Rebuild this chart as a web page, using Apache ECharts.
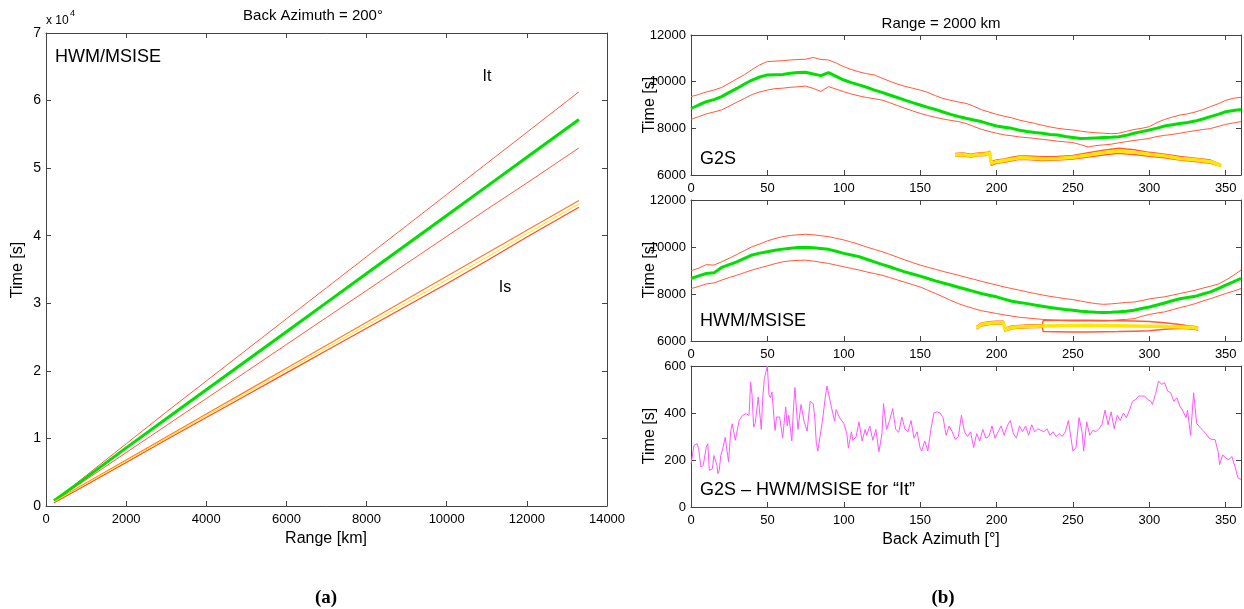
<!DOCTYPE html>
<html>
<head>
<meta charset="utf-8">
<script src="https://cdn.jsdelivr.net/npm/echarts@6/dist/echarts.min.js"></script>
<style>
  html, body { margin: 0; padding: 0; background: #fff; }
  #chart { width: 1244px; height: 609px; }
</style>
</head>
<body>
<div id="chart"></div>
<script>
// (a) travel time vs range
const rangeKm = [200, 1000, 2000, 3000, 4000, 5000, 6000, 7000, 8000, 9000, 10000, 11000, 12000, 13300];
const itMid   = [800, 4200, 8600, 12900, 17200, 21500, 25800, 30100, 34400, 38700, 43000, 47300, 51600, 57200];
const itHigh  = [700, 4500, 9200, 13900, 18500, 23100, 27700, 32300, 36900, 41500, 46100, 50700, 55300, 61300];
const itLow   = [700, 3900, 7900, 11900, 15900, 19900, 23900, 27900, 31900, 35900, 39900, 43900, 47800, 53000];
const isHigh  = [700, 3400, 6800, 10200, 13600, 17000, 20400, 23800, 27200, 30600, 34000, 37400, 40800, 45200];
const isMid   = [620, 3300, 6650, 10000, 13350, 16700, 20050, 23400, 26750, 30100, 33450, 36800, 40300, 44700];
const isLow   = [500, 3100, 6450, 9800, 13100, 16400, 19700, 23000, 26300, 29600, 32900, 36300, 39800, 44200];

// (b) back azimuth, every 5 degrees
const az = [0,5,10,15,20,25,30,35,40,45,50,55,60,65,70,75,80,85,90,95,100,105,110,115,120,125,130,135,140,145,150,155,160,165,170,175,180,185,190,195,200,205,210,215,220,225,230,235,240,245,250,255,260,265,270,275,280,285,290,295,300,305,310,315,320,325,330,335,340,345,350,355,360];

const g2sIt = [8850,9000,9140,9230,9360,9540,9710,9900,10070,10200,10290,10300,10310,10360,10390,10400,10330,10260,10390,10230,10070,9960,9860,9760,9640,9540,9430,9320,9210,9100,9000,8900,8810,8700,8600,8510,8430,8360,8290,8190,8100,8050,8000,7920,7860,7820,7790,7740,7710,7650,7610,7560,7570,7590,7610,7620,7640,7700,7790,7860,7930,8010,8100,8150,8210,8250,8310,8400,8500,8600,8710,8760,8810];
const g2sItHigh = [9360,9450,9560,9640,9750,9930,10120,10300,10520,10720,10860,10880,10900,10930,10950,10960,11040,10950,10930,10800,10640,10520,10420,10340,10290,10150,10020,9900,9800,9720,9640,9540,9400,9280,9200,9130,9070,8950,8800,8700,8600,8520,8450,8350,8280,8210,8130,8060,8000,7960,7930,7880,7840,7810,7790,7770,7790,7870,7950,8000,8070,8250,8380,8480,8570,8620,8700,8800,8930,9050,9200,9290,9330];
const g2sItLow = [8390,8500,8620,8700,8790,8950,9120,9280,9450,9560,9640,9700,9720,9760,9780,9810,9710,9580,9790,9680,9570,9470,9390,9320,9270,9210,9100,8980,8860,8750,8640,8550,8470,8400,8340,8290,8210,8080,7960,7870,7790,7720,7680,7630,7600,7570,7530,7490,7450,7420,7390,7300,7200,7260,7290,7320,7380,7430,7480,7520,7570,7650,7700,7740,7790,7850,7900,7950,7990,8080,8170,8230,8290];

const hwmIt = [8660,8770,8870,8900,9130,9250,9370,9520,9660,9740,9800,9860,9910,9950,9980,9990,9970,9940,9900,9820,9730,9660,9590,9480,9370,9260,9160,9050,8940,8850,8760,8660,8560,8470,8380,8290,8200,8110,8020,7950,7880,7780,7690,7640,7590,7530,7480,7430,7380,7340,7310,7270,7240,7220,7210,7220,7240,7270,7310,7380,7450,7530,7620,7710,7800,7850,7900,8000,8090,8230,8380,8520,8660];
const hwmItHigh = [8990,9100,9250,9230,9370,9520,9680,9850,10010,10130,10260,10360,10440,10490,10520,10540,10520,10480,10440,10370,10300,10210,10110,10000,9900,9800,9690,9570,9450,9340,9230,9140,9050,8960,8880,8800,8710,8630,8540,8460,8380,8300,8230,8160,8090,8020,7960,7900,7850,7800,7760,7700,7640,7590,7560,7580,7610,7640,7660,7720,7790,7840,7880,7950,8020,8090,8160,8250,8330,8420,8590,8790,9020];
const hwmItLow = [8230,8320,8430,8470,8590,8700,8800,8910,9020,9110,9200,9290,9370,9410,9430,9440,9400,9350,9300,9230,9160,9090,9020,8940,8870,8800,8700,8600,8500,8400,8300,8160,8020,7880,7730,7590,7480,7380,7290,7230,7170,7110,7060,7010,6980,6950,6920,6900,6880,6860,6850,6850,6850,6850,6850,6870,6900,6920,6950,7050,7130,7190,7240,7330,7420,7500,7590,7700,7800,7910,8020,8120,8230];

// "Is" arrivals, only where they exist
const g2sIsAz   = [173,178,183,188,193,195.5,196.5,200,205,210,215,220,230,240,250,260,270,280,285,290,300,310,320,330,340,347];
const g2sIs     = [6860,6880,6830,6880,6900,6960,6500,6570,6620,6680,6740,6730,6700,6710,6760,6860,6960,7030,7000,6980,6890,6820,6710,6650,6570,6400];
const g2sIsHigh = [6920,6940,6890,6940,6960,7020,6580,6640,6690,6760,6810,6810,6780,6790,6840,6950,7060,7150,7110,7080,6970,6890,6790,6720,6640,6440];
const g2sIsLow  = [6800,6820,6770,6820,6840,6900,6420,6500,6550,6610,6670,6660,6620,6640,6690,6770,6860,6930,6900,6880,6800,6740,6640,6580,6500,6370];

const hwmIsAz   = [187,190,195,200,204.5,205.5,210,220,230,230.5,240,250,260,270,280,290,300,310,320,325,330,332];
const hwmIs     = [6560,6700,6760,6780,6780,6480,6580,6620,6640,6640,6650,6660,6670,6660,6650,6640,6630,6620,6600,6580,6560,6520];
const hwmIsHigh = [6620,6760,6820,6840,6840,6540,6640,6680,6700,6870,6880,6880,6880,6870,6860,6850,6830,6780,6700,6650,6620,6580];
const hwmIsLow  = [6500,6640,6700,6720,6720,6420,6520,6560,6580,6400,6390,6380,6380,6390,6400,6420,6440,6500,6540,6520,6500,6460];

// G2S - HWM/MSISE difference for "It"
const diffAz = [0,2,4,5,6.5,8,10,11,12,14,15,17,17.6,18.5,19.5,21,22.4,24,24.6,26,27,28,29,30,31.5,33.7,36,38,39,40,41,42,44,46,47,48,50,51,52,53,55,56,58,60,62,63,64,66,67,68,70,72,74,76,78,80,81,82,83,84,86,88,89,90,92,94,95,97,100,102,103,105,106,108,110,112,114,115,117,119,121,123,125,126,128,130,132,134,136,138,140,142,144,146,148,150,151,153,155,157,159,161,163,165,167,169,171,173,175,177,179,181,183,185,187,189,191,193,195,197,199,201,203,205,207,209,211,213,215,217,219,221,223,225,227,229,231,233,235,237,239,241,243,245,247,249,250,252,254,256,257,259,261,263,265,267,269,271,273,275,277,279,281,283,285,287,289,291,293,295,297,299,301,302,304,306,308,310,312,314,316,318,320,322,324,325,327,329,331,333,335,337,339,341,343,345,346,348,350,352,354,356,358,360];
const diffVal = [184,262,269,248,170,177,255,269,156,163,219,177,142,156,219,255,297,219,191,325,354,319,284,291,368,390,397,390,532,475,340,355,468,330,468,546,600,479,465,489,326,383,383,294,426,345,390,281,412,508,330,436,365,323,450,440,383,274,238,245,365,472,515,508,422,365,415,383,355,313,250,320,284,298,362,281,330,305,345,284,330,235,312,440,330,368,419,330,318,383,333,320,368,293,320,250,238,281,238,330,400,405,400,380,305,345,320,287,300,390,320,300,320,253,312,281,330,293,300,345,293,320,345,305,345,368,312,293,345,320,345,305,350,320,333,326,320,333,305,320,300,312,300,320,368,281,238,253,380,320,238,362,305,326,320,333,350,412,350,405,333,390,368,400,380,412,450,457,472,472,472,457,450,436,479,536,522,529,493,486,450,465,429,408,380,412,305,486,355,340,326,312,294,287,287,236,180,222,208,201,215,173,124,117];

const zip = (xs, ys) => xs.map((x, i) => [x, ys[i]]);

const FONT = '"Liberation Sans", Arial, sans-serif';
const AXC = '#444';
const GREEN = '#00e000';
const RED = '#ff5a3c';
const YELLOW = '#ffe600';
const MAGENTA = '#ff55ff';

const grids = [
  { left: 46, top: 33, width: 561, height: 473 },
  { left: 691, top: 35, width: 552, height: 140 },
  { left: 691, top: 200, width: 552, height: 141 },
  { left: 691, top: 366, width: 552, height: 141 }
];

const tickStyle = () => ({ inside: true, length: 5, lineStyle: { color: AXC } });
// onZero off, otherwise the mirrored frame axes jump onto the zero line
const lineStyleAx = () => ({ show: true, onZero: false, lineStyle: { color: AXC, width: 1 } });
const labelStyle = { color: '#000', fontFamily: FONT, fontSize: 13 };

const xSpec = [
  { min: 0, max: 14000, interval: 2000 },
  { min: 0, max: 360, interval: 50 },
  { min: 0, max: 360, interval: 50 },
  { min: 0, max: 360, interval: 50 }
];
const ySpec = [
  { min: 0, max: 70000, interval: 10000, fmt: v => String(v / 10000), size: 14 },
  { min: 6000, max: 12000, interval: 2000, fmt: v => String(v), size: 13 },
  { min: 6000, max: 12000, interval: 2000, fmt: v => String(v), size: 13 },
  { min: 0, max: 600, interval: 200, fmt: v => String(v), size: 13 }
];

const xAxis = [], yAxis = [];
grids.forEach((g, i) => {
  const xs = xSpec[i], ys = ySpec[i];
  xAxis.push({
    type: 'value', gridIndex: i, position: 'bottom', min: xs.min, max: xs.max, interval: xs.interval,
    axisLine: lineStyleAx(), axisTick: tickStyle(), splitLine: { show: false },
    axisLabel: Object.assign({}, labelStyle, { margin: 7, formatter: v => (v % xs.interval === 0 ? String(v) : '') })
  });
  xAxis.push({
    type: 'value', gridIndex: i, position: 'top', min: xs.min, max: xs.max, interval: xs.interval,
    axisLine: lineStyleAx(), axisTick: tickStyle(), splitLine: { show: false }, axisLabel: { show: false }
  });
  yAxis.push({
    type: 'value', gridIndex: i, position: 'left', min: ys.min, max: ys.max, interval: ys.interval,
    axisLine: lineStyleAx(), axisTick: tickStyle(), splitLine: { show: false },
    axisLabel: Object.assign({}, labelStyle, { fontSize: ys.size, margin: 5, formatter: ys.fmt })
  });
  yAxis.push({
    type: 'value', gridIndex: i, position: 'right', min: ys.min, max: ys.max, interval: ys.interval,
    axisLine: lineStyleAx(), axisTick: tickStyle(), splitLine: { show: false }, axisLabel: { show: false }
  });
});

function line(gi, data, color, width, z) {
  return {
    type: 'line', xAxisIndex: gi * 2, yAxisIndex: gi * 2, data: data,
    showSymbol: false, symbol: 'none', smooth: false, animation: false, z: z || 2,
    lineStyle: { color: color, width: width }, silent: true
  };
}

const series = [
  // (a)
  line(0, zip(rangeKm, itHigh), RED, 1),
  line(0, zip(rangeKm, itLow), RED, 1),
  line(0, zip(rangeKm, itMid), GREEN, 3, 3),
  line(0, zip(rangeKm, isHigh), '#ff7a30', 1.2),
  line(0, zip(rangeKm, isLow), '#ff4a20', 1.2),
  line(0, zip(rangeKm, isMid), YELLOW, 1, 3),
  // (b) G2S
  line(1, zip(az, g2sItHigh), RED, 1),
  line(1, zip(az, g2sItLow), RED, 1),
  line(1, zip(az, g2sIt), GREEN, 3, 3),
  line(1, zip(g2sIsAz, g2sIsHigh), RED, 1.5),
  line(1, zip(g2sIsAz, g2sIsLow), RED, 1.5),
  line(1, zip(g2sIsAz, g2sIs), YELLOW, 3.5, 3),
  // (b) HWM/MSISE
  line(2, zip(az, hwmItHigh), RED, 1),
  line(2, zip(az, hwmItLow), RED, 1),
  line(2, zip(az, hwmIt), GREEN, 3, 3),
  line(2, zip(hwmIsAz, hwmIsHigh), RED, 1.5),
  line(2, zip(hwmIsAz, hwmIsLow), RED, 1.5),
  line(2, zip(hwmIsAz, hwmIs), YELLOW, 3.5, 3),
  // (b) difference
  line(3, zip(diffAz, diffVal), MAGENTA, 1)
];

function txt(x, y, s, size, extra) {
  return {
    type: 'text', x: x, y: y, silent: true,
    style: Object.assign({ text: s, fill: '#000', font: size + 'px ' + FONT, textVerticalAlign: 'middle' }, extra || {})
  };
}
function vtxt(x, y, s, size) {
  return {
    type: 'text', x: x, y: y, rotation: Math.PI / 2, silent: true,
    style: { text: s, fill: '#000', font: size + 'px ' + FONT, textAlign: 'center', textVerticalAlign: 'middle' }
  };
}

const graphic = [
  txt(313, 16, 'Back Azimuth = 200°', 15, { textAlign: 'center' }),
  txt(941, 24, 'Range = 2000 km', 15, { textAlign: 'center' }),
  txt(46, 21, 'x 10', 12),
  txt(70, 14, '4', 9),
  txt(55, 57, 'HWM/MSISE', 18),
  txt(487, 77, 'It', 16, { textAlign: 'center' }),
  txt(505, 288, 'Is', 16, { textAlign: 'center' }),
  vtxt(18, 270, 'Time [s]', 16),
  txt(326, 539, 'Range [km]', 16, { textAlign: 'center' }),
  txt(326, 598, '(a)', 19, { textAlign: 'center', font: 'bold 19px "Liberation Serif", "Times New Roman", serif' }),
  vtxt(650, 105, 'Time [s]', 16),
  vtxt(650, 270, 'Time [s]', 16),
  vtxt(650, 436, 'Time [s]', 16),
  txt(700, 159, 'G2S', 18),
  txt(700, 321, 'HWM/MSISE', 18),
  txt(700, 490, 'G2S \u2013 HWM/MSISE for \u201cIt\u201d', 18),
  txt(941, 540, 'Back Azimuth [°]', 16, { textAlign: 'center' }),
  txt(943, 598, '(b)', 19, { textAlign: 'center', font: 'bold 19px "Liberation Serif", "Times New Roman", serif' })
];

const chart = echarts.init(document.getElementById('chart'), null, { renderer: 'canvas' });
chart.setOption({
  backgroundColor: '#fff',
  animation: false,
  grid: grids,
  xAxis: xAxis,
  yAxis: yAxis,
  series: series,
  graphic: graphic
});
window.addEventListener('resize', () => chart.resize());
</script>
</body>
</html>
